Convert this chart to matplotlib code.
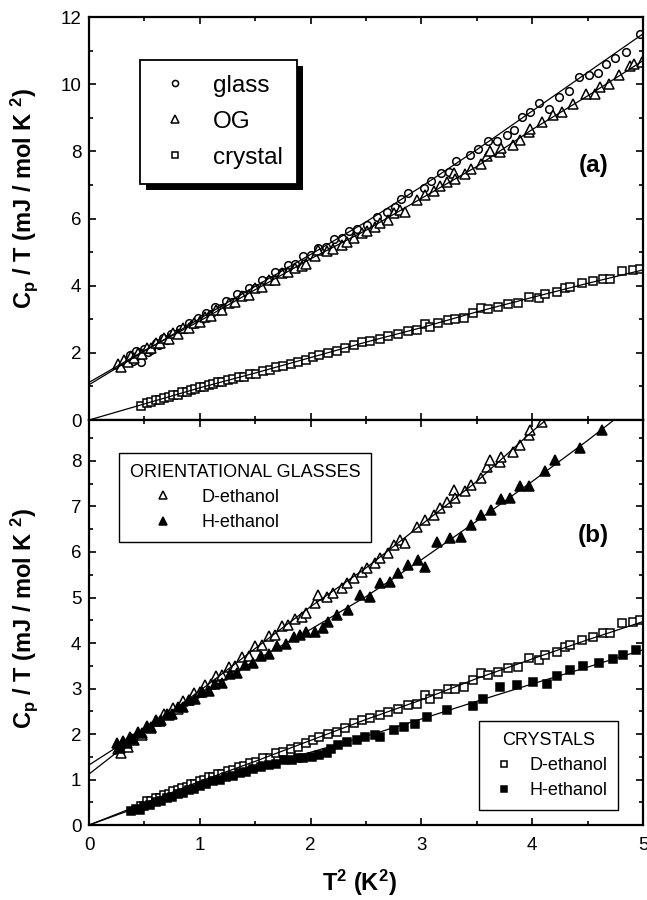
import matplotlib
matplotlib.use("Agg")
import matplotlib.pyplot as plt
from matplotlib.patches import Rectangle
from matplotlib.ticker import MultipleLocator

plt.rcParams['font.family'] = ['Liberation Sans', 'DejaVu Sans']
plt.rcParams['mathtext.fontset'] = 'custom'
plt.rcParams['mathtext.rm'] = 'Liberation Sans'
plt.rcParams['mathtext.bf'] = 'Liberation Sans:bold'
plt.rcParams['mathtext.it'] = 'Liberation Sans:italic'

# ---- glass (panel a, circles)
glass_x = [0.34, 0.37, 0.40, 0.42, 0.45, 0.47, 0.50, 0.53, 0.56, 0.60, 0.63, 0.67, 0.70, 0.74,
           0.78, 0.82, 0.86, 0.90, 0.94, 0.98, 1.02, 1.06, 1.10, 1.14, 1.19, 1.24, 1.29, 1.34,
           1.39, 1.44, 1.50, 1.56, 1.62, 1.68, 1.74, 1.80, 1.86, 1.93, 2.00, 2.07, 2.14, 2.21,
           2.28, 2.35, 2.42, 2.51, 2.60, 2.69, 2.76, 2.82, 2.88, 3.02, 3.09, 3.18, 3.25, 3.31,
           3.44, 3.51, 3.60, 3.68, 3.77, 3.84, 3.91, 3.98, 4.06, 4.15, 4.24, 4.33, 4.42, 4.51,
           4.59, 4.67, 4.75, 4.85, 4.97]
glass_y = [1.80, 1.95, 1.75, 2.05, 1.92, 1.74, 2.12, 2.02, 2.10, 2.30, 2.22, 2.44, 2.38, 2.56,
           2.55, 2.72, 2.70, 2.90, 2.86, 3.04, 3.00, 3.20, 3.16, 3.36, 3.34, 3.55, 3.52, 3.74,
           3.72, 3.93, 3.92, 4.16, 4.18, 4.40, 4.41, 4.62, 4.64, 4.88, 4.90, 5.12, 5.16, 5.38,
           5.42, 5.64, 5.68, 5.80, 6.05, 6.20, 6.35, 6.57, 6.75, 6.90, 7.11, 7.36, 7.39, 7.72,
           7.89, 8.06, 8.30, 8.30, 8.50, 8.63, 9.03, 9.18, 9.44, 9.25, 9.62, 9.79, 10.22, 10.27,
           10.32, 10.59, 10.78, 10.96, 11.48]

# ---- orientational glass, D-ethanol (open triangles, "OG" in panel a)
ogd_x = [0.26, 0.29, 0.32, 0.35, 0.38, 0.41, 0.44, 0.48, 0.52, 0.56, 0.60, 0.64, 0.68, 0.72,
         0.76, 0.80, 0.85, 0.90, 0.95, 1.00, 1.05, 1.10, 1.15, 1.20, 1.26, 1.32, 1.38, 1.44,
         1.50, 1.56, 1.62, 1.68, 1.74, 1.80, 1.86, 1.92, 1.96, 2.04, 2.07, 2.15, 2.20, 2.28,
         2.33, 2.39, 2.46, 2.51, 2.58, 2.63, 2.70, 2.75, 2.81, 2.85, 2.96, 3.03, 3.11, 3.17,
         3.23, 3.29, 3.30, 3.39, 3.45, 3.54, 3.59, 3.62, 3.71, 3.72, 3.83, 3.89, 3.97, 3.98,
         4.09, 4.19, 4.27, 4.37, 4.49, 4.57, 4.61, 4.69, 4.78, 4.88, 4.92, 4.99]
ogd_y = [1.66, 1.58, 1.80, 1.72, 1.90, 1.86, 2.00, 1.98, 2.15, 2.14, 2.30, 2.28, 2.43, 2.42,
         2.58, 2.56, 2.73, 2.74, 2.90, 2.92, 3.08, 3.10, 3.28, 3.29, 3.47, 3.50, 3.70, 3.72,
         3.93, 3.95, 4.16, 4.17, 4.38, 4.40, 4.52, 4.58, 4.65, 4.87, 5.05, 5.02, 5.09, 5.20,
         5.31, 5.42, 5.57, 5.64, 5.75, 5.86, 5.97, 6.15, 6.26, 6.19, 6.56, 6.70, 6.81, 6.96,
         7.10, 7.36, 7.18, 7.33, 7.47, 7.62, 7.87, 8.02, 7.98, 8.09, 8.20, 8.35, 8.57, 8.68,
         8.86, 9.08, 9.18, 9.40, 9.70, 9.72, 9.92, 10.02, 10.27, 10.53, 10.59, 10.66]

# ---- orientational glass, H-ethanol (filled triangles)
ogh_x = [0.25, 0.28, 0.31, 0.34, 0.37, 0.40, 0.44, 0.48, 0.52, 0.56, 0.60, 0.65, 0.70, 0.75,
         0.80, 0.85, 0.90, 0.96, 1.02, 1.08, 1.14, 1.20, 1.27, 1.34, 1.41, 1.48, 1.55, 1.62,
         1.70, 1.78, 1.85, 1.90, 1.96, 2.04, 2.11, 2.16, 2.24, 2.34, 2.45, 2.54, 2.63, 2.72,
         2.79, 2.88, 2.97, 3.03, 3.14, 3.26, 3.36, 3.45, 3.54, 3.63, 3.72, 3.80, 3.89, 3.97,
         4.12, 4.21, 4.43, 4.63]
ogh_y = [1.80, 1.70, 1.85, 1.80, 1.94, 1.90, 2.05, 2.03, 2.17, 2.15, 2.29, 2.30, 2.44, 2.45,
         2.59, 2.60, 2.74, 2.76, 2.92, 2.94, 3.11, 3.13, 3.31, 3.34, 3.52, 3.56, 3.72, 3.76,
         3.93, 3.98, 4.14, 4.18, 4.25, 4.25, 4.32, 4.47, 4.62, 4.73, 5.05, 5.02, 5.31, 5.35,
         5.53, 5.71, 5.82, 5.67, 6.23, 6.30, 6.34, 6.59, 6.81, 6.92, 7.16, 7.18, 7.44, 7.44,
         7.77, 8.02, 8.28, 8.68]

# ---- crystal, D-ethanol (open squares, "crystal" in panel a)
crd_x = [0.47, 0.52, 0.56, 0.60, 0.64, 0.68, 0.72, 0.76, 0.80, 0.84, 0.88, 0.92, 0.96, 1.00,
         1.04, 1.08, 1.12, 1.16, 1.20, 1.25, 1.30, 1.35, 1.40, 1.45, 1.51, 1.57, 1.63, 1.69,
         1.75, 1.82, 1.89, 1.96, 2.02, 2.08, 2.16, 2.24, 2.31, 2.39, 2.46, 2.54, 2.63, 2.70,
         2.79, 2.88, 2.96, 3.03, 3.08, 3.15, 3.24, 3.30, 3.38, 3.47, 3.54, 3.60, 3.69, 3.78,
         3.87, 3.97, 4.06, 4.12, 4.22, 4.30, 4.34, 4.45, 4.55, 4.64, 4.70, 4.81, 4.91, 4.97]
crd_y = [0.42, 0.52, 0.53, 0.59, 0.60, 0.66, 0.68, 0.74, 0.76, 0.82, 0.83, 0.90, 0.91, 0.97,
         0.98, 1.05, 1.06, 1.12, 1.13, 1.19, 1.21, 1.28, 1.29, 1.37, 1.38, 1.47, 1.48, 1.58,
         1.60, 1.68, 1.72, 1.80, 1.87, 1.94, 2.01, 2.05, 2.13, 2.24, 2.31, 2.36, 2.42, 2.49,
         2.56, 2.64, 2.67, 2.86, 2.78, 2.89, 2.98, 3.00, 3.04, 3.19, 3.33, 3.30, 3.37, 3.44,
         3.48, 3.66, 3.63, 3.74, 3.81, 3.92, 3.96, 4.07, 4.14, 4.21, 4.21, 4.44, 4.47, 4.51]

# ---- crystal, H-ethanol (filled squares)
crh_x = [0.38, 0.42, 0.46, 0.50, 0.55, 0.60, 0.65, 0.70, 0.75, 0.80, 0.85, 0.90, 0.95, 1.00,
         1.06, 1.12, 1.18, 1.24, 1.30, 1.36, 1.42, 1.48, 1.55, 1.62, 1.69, 1.76, 1.83, 1.89,
         1.93, 2.01, 2.08, 2.15, 2.18, 2.25, 2.33, 2.42, 2.49, 2.58, 2.63, 2.75, 2.84, 2.94,
         3.05, 3.23, 3.47, 3.56, 3.71, 3.86, 4.01, 4.13, 4.22, 4.34, 4.46, 4.60, 4.73, 4.82,
         4.94]
crh_y = [0.30, 0.36, 0.34, 0.42, 0.44, 0.50, 0.53, 0.60, 0.62, 0.68, 0.71, 0.77, 0.80, 0.86,
         0.90, 0.96, 0.99, 1.06, 1.08, 1.15, 1.17, 1.24, 1.27, 1.33, 1.35, 1.42, 1.44, 1.48,
         1.47, 1.50, 1.54, 1.58, 1.68, 1.76, 1.83, 1.87, 1.94, 1.98, 1.94, 2.09, 2.16, 2.23,
         2.38, 2.53, 2.61, 2.78, 3.04, 3.08, 3.15, 3.11, 3.27, 3.41, 3.49, 3.57, 3.64, 3.74,
         3.85]

# ---- fitted curves
fit_x = [0.0, 0.5, 1.0, 1.5, 2.0, 2.5, 3.0, 3.5, 4.0, 4.5, 5.0]
glass_fit = [1.05, 2.05, 3.02, 3.98, 4.93, 5.90, 6.95, 8.05, 9.20, 10.35, 11.50]
ogd_fit = [1.12, 2.07, 2.95, 3.88, 4.80, 5.65, 6.60, 7.55, 8.65, 9.65, 10.70]
ogh_fit = [1.32, 2.10, 2.85, 3.62, 4.30, 5.02, 5.83, 6.68, 7.55, 8.45, 9.40]
crd_fit = [0.0, 0.48, 0.96, 1.40, 1.86, 2.32, 2.75, 3.22, 3.65, 4.07, 4.47]
crh_fit = [0.0, 0.44, 0.87, 1.27, 1.60, 1.95, 2.33, 2.72, 3.10, 3.47, 3.85]

fig = plt.figure(figsize=(6.47, 9.0), dpi=100)
ax1 = fig.add_axes([0.1376, 0.5333, 0.8562, 0.4478])
ax2 = fig.add_axes([0.1376, 0.0833, 0.8562, 0.4500])

mk = dict(linestyle='none', markeredgecolor='black', markeredgewidth=1.1, zorder=2)
open_ = dict(markerfacecolor='white', **mk)
full_ = dict(markerfacecolor='black', **mk)

# panel (a)
h_glass, = ax1.plot(glass_x, glass_y, 'o', ms=5.5, label='glass', **open_)
h_og, = ax1.plot(ogd_x, ogd_y, '^', ms=7, label='OG', **open_)
h_cr, = ax1.plot(crd_x, crd_y, 's', ms=5.5, label='crystal', **open_)
for fy in (glass_fit, ogd_fit, crd_fit):
    ax1.plot(fit_x, fy, 'k-', lw=0.9, zorder=3)

# panel (b)
h_ogd, = ax2.plot(ogd_x, ogd_y, '^', ms=7, label='D-ethanol', **open_)
h_ogh, = ax2.plot(ogh_x, ogh_y, '^', ms=7, label='H-ethanol', **full_)
h_crd, = ax2.plot(crd_x, crd_y, 's', ms=5.5, label='D-ethanol', **open_)
h_crh, = ax2.plot(crh_x, crh_y, 's', ms=5.5, label='H-ethanol', **full_)
for fy in (ogd_fit, ogh_fit, crd_fit, crh_fit):
    ax2.plot(fit_x, fy, 'k-', lw=0.9, zorder=3)

for ax in (ax1, ax2):
    ax.set_xlim(0, 5)
    ax.xaxis.set_major_locator(MultipleLocator(1))
    ax.xaxis.set_minor_locator(MultipleLocator(0.5))
    ax.tick_params(which='both', direction='in', top=True, right=True, width=1.2,
                   labelsize=13.5)
    ax.tick_params(which='major', length=5)
    ax.tick_params(which='minor', length=3)
    ax.tick_params(axis='y', pad=5.5)
    ax.tick_params(axis='x', pad=8.5)
    for s in ax.spines.values():
        s.set_linewidth(1.6)
    ax.set_ylabel(r'$\mathbf{C_p}$ / T (mJ / mol K $^\mathbf{2}$)', fontsize=17,
                  fontweight='bold')

ax1.set_ylim(0, 12)
ax1.yaxis.set_major_locator(MultipleLocator(2))
ax1.yaxis.set_minor_locator(MultipleLocator(1))
ax1.tick_params(labelbottom=False)
ax1.yaxis.set_label_coords(-0.088, 0.55)

ax2.set_ylim(0, 8.9)
ax2.yaxis.set_major_locator(MultipleLocator(1))
ax2.yaxis.set_minor_locator(MultipleLocator(0.5))
ax2.yaxis.set_label_coords(-0.088, 0.51)
ax2.set_xlabel(r'T$^\mathbf{2}$ (K$^\mathbf{2}$)', fontsize=17, fontweight='bold')
ax2.xaxis.set_label_coords(0.488, -0.105)

ax1.text(0.91, 0.631, '(a)', transform=ax1.transAxes, fontsize=17.5, fontweight='bold',
         ha='center', va='center')
ax2.text(0.91, 0.714, '(b)', transform=ax2.transAxes, fontsize=17.5, fontweight='bold',
         ha='center', va='center')

frame = dict(frameon=True, fancybox=False, framealpha=1, edgecolor='black',
             numpoints=1, borderaxespad=0)

leg1 = ax1.legend(handles=[h_glass, h_og, h_cr], loc='upper left',
                  bbox_to_anchor=(0.092, 0.893), fontsize=17.5, borderpad=0.6,
                  handlelength=1.7, handletextpad=0.7, labelspacing=0.58,
                  markerscale=0.8, **frame)
leg1.get_frame().set_linewidth(1.3)

legb1 = ax2.legend(handles=[h_ogd, h_ogh], loc='upper left', bbox_to_anchor=(0.054, 0.919),
                   title='ORIENTATIONAL GLASSES', title_fontsize=13, fontsize=13,
                   alignment='left', borderpad=0.6, handlelength=3.7, handletextpad=0.25,
                   labelspacing=0.45, markerscale=0.8, **frame)
legb1.get_frame().set_linewidth(1.0)
ax2.add_artist(legb1)
legb2 = ax2.legend(handles=[h_crd, h_crh], loc='lower left', bbox_to_anchor=(0.704, 0.037),
                   title='CRYSTALS', title_fontsize=13, fontsize=13,
                   borderpad=0.6, handlelength=1.6, handletextpad=0.6, labelspacing=0.45,
                   markerscale=0.8, **frame)
legb2.get_frame().set_linewidth(1.0)

# solid black drop shadow behind the panel (a) legend
fig.canvas.draw()
bb = leg1.get_window_extent().transformed(ax1.transAxes.inverted())
dx = 6 / (ax1.bbox.width)
dy = 6 / (ax1.bbox.height)
ax1.add_patch(Rectangle((bb.x0 + dx, bb.y0 - dy), bb.width, bb.height,
                        transform=ax1.transAxes, facecolor='black', edgecolor='none',
                        zorder=4.9, clip_on=False))
leg1.set_zorder(5)

fig.savefig('out.png', dpi=100)
